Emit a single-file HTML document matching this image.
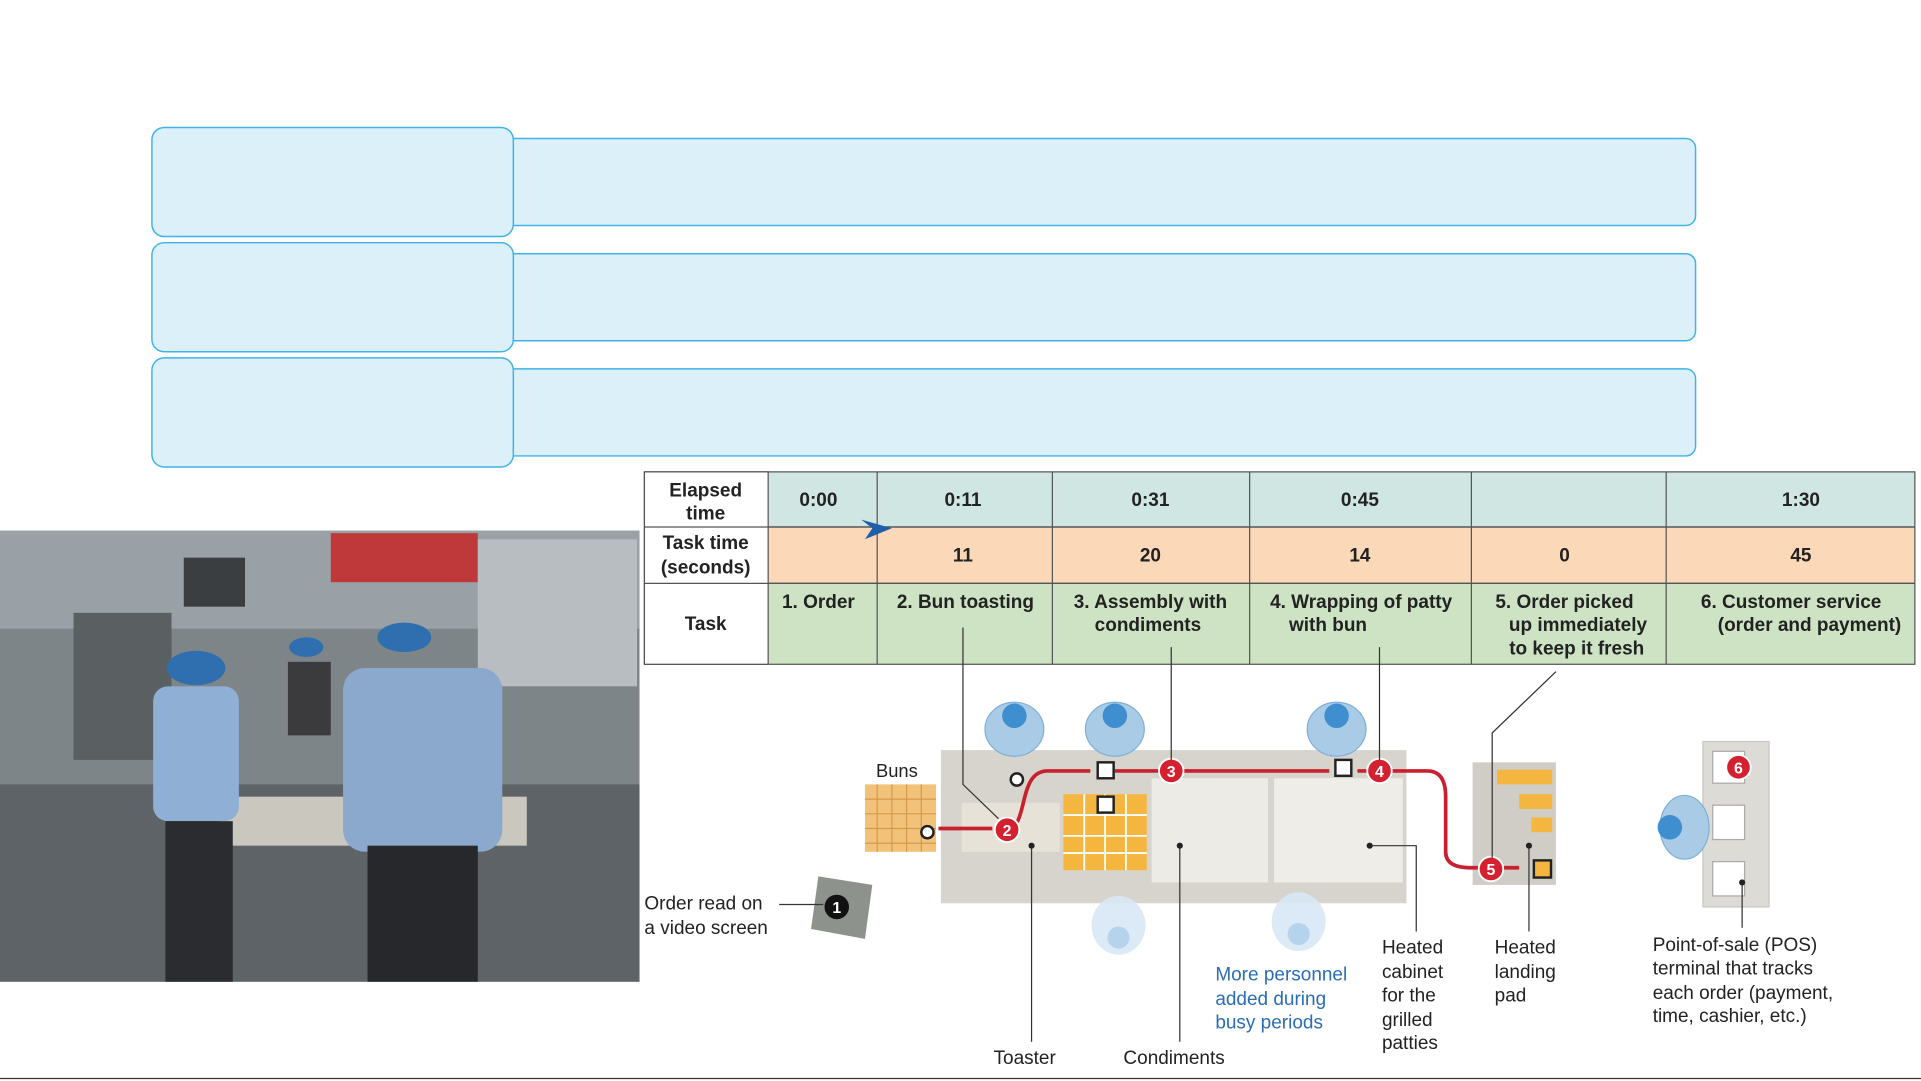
<!DOCTYPE html>
<html><head><meta charset="utf-8"><style>
html,body{margin:0;padding:0;background:#fff;overflow:hidden}
svg{display:block}
text{font-family:"Liberation Sans",sans-serif}
</style></head><body>
<svg width="1921" height="1081" viewBox="0 0 1568 882" preserveAspectRatio="none" xmlns="http://www.w3.org/2000/svg">
<rect width="1568" height="882" fill="#fff"/>
<!-- list boxes -->
<g fill="#dcf0fa" stroke="#3fb3e8" stroke-width="1.2">
<rect x="410" y="113" width="974" height="71" rx="8"/>
<rect x="124" y="104" width="295" height="89" rx="10"/>
<rect x="410" y="207" width="974" height="71" rx="8"/>
<rect x="124" y="198" width="295" height="89" rx="10"/>
<rect x="410" y="301" width="974" height="71" rx="8"/>
<rect x="124" y="292" width="295" height="89" rx="10"/>
</g>
<!-- photo placeholder -->
<rect x="0" y="433" width="522" height="368" fill="#7d8588"/>
<rect x="0" y="433" width="522" height="80" fill="#9aa1a6"/>
<rect x="270" y="435" width="120" height="40" fill="#c0393a"/>
<rect x="390" y="440" width="130" height="120" fill="#b7bdc1"/>
<rect x="60" y="500" width="80" height="120" fill="#5a5f62"/>
<rect x="150" y="455" width="50" height="40" fill="#3a3e40"/>
<rect x="0" y="640" width="522" height="161" fill="#5d6366"/>
<rect x="180" y="650" width="250" height="40" fill="#c9c7be"/>
<ellipse cx="160" cy="545" rx="24" ry="14" fill="#2f6fb0"/>
<rect x="125" y="560" width="70" height="110" rx="12" fill="#8fb0d4"/>
<rect x="135" y="670" width="55" height="131" fill="#2a2c30"/>
<ellipse cx="330" cy="520" rx="22" ry="12" fill="#2f6fb0"/>
<rect x="280" y="545" width="130" height="150" rx="18" fill="#8aa9cc"/>
<rect x="300" y="690" width="90" height="111" fill="#26282c"/>
<ellipse cx="250" cy="528" rx="14" ry="8" fill="#2f6fb0"/>
<rect x="235" y="540" width="35" height="60" fill="#3b3b3d"/>
<!-- table -->
<g stroke="#555" stroke-width="1">
<rect x="526" y="385" width="1037" height="45" fill="#cfe6e3"/>
<rect x="526" y="430" width="1037" height="46" fill="#fbd9b8"/>
<rect x="526" y="476" width="1037" height="66" fill="#cde3c3"/>
<rect x="526" y="385" width="101" height="157" fill="#fff"/>
<line x1="526" y1="430" x2="1563" y2="430"/><line x1="526" y1="476" x2="1563" y2="476"/>
<line x1="716" y1="385" x2="716" y2="542"/><line x1="859" y1="385" x2="859" y2="542"/>
<line x1="1020" y1="385" x2="1020" y2="542"/><line x1="1201" y1="385" x2="1201" y2="542"/>
<line x1="1360" y1="385" x2="1360" y2="542"/>
</g>
<path d="M703 424 L728 431 L706 440 L712 431 Z" fill="#1f5fa8"/>
<g font-size="15.5" font-weight="bold" fill="#222" text-anchor="middle">
<text x="576" y="405">Elapsed</text><text x="576" y="424">time</text>
<text x="576" y="448">Task time</text><text x="576" y="468">(seconds)</text>
<text x="576" y="514">Task</text>
<text x="668" y="413">0:00</text><text x="786" y="413">0:11</text><text x="939" y="413">0:31</text>
<text x="1110" y="413">0:45</text><text x="1470" y="413">1:30</text>
<text x="786" y="458">11</text><text x="939" y="458">20</text><text x="1110" y="458">14</text>
<text x="1277" y="458">0</text><text x="1470" y="458">45</text>
<text x="668" y="496">1. Order</text><text x="788" y="496">2. Bun toasting</text>
<text x="939" y="496">3. Assembly with</text><text x="937" y="515">condiments</text>
<text x="1111" y="496">4. Wrapping of patty</text><text x="1084" y="515">with bun</text>
<text x="1277" y="496">5. Order picked</text><text x="1288" y="515">up immediately</text><text x="1287" y="534">to keep it fresh</text>
<text x="1462" y="496">6. Customer service</text><text x="1477" y="515">(order and payment)</text>
</g>
<!-- diagram -->
<rect x="768" y="612" width="380" height="125" fill="#d6d4cc"/>
<rect x="785" y="655" width="80" height="40" fill="#e6e2d8"/>
<rect x="940" y="635" width="95" height="85" fill="#ecebe6"/>
<rect x="1040" y="635" width="105" height="85" fill="#eeede8"/>
<rect x="868" y="648" width="68" height="62" fill="#f4b63e"/>
<g stroke="#fff" stroke-width="1.5"><line x1="868" y1="665" x2="936" y2="665"/><line x1="868" y1="682" x2="936" y2="682"/><line x1="868" y1="696" x2="936" y2="696"/><line x1="885" y1="648" x2="885" y2="710"/><line x1="902" y1="648" x2="902" y2="710"/><line x1="919" y1="648" x2="919" y2="710"/></g>
<rect x="706" y="640" width="58" height="55" fill="#f2c27a"/>
<g fill="none" stroke="#d49a4a" stroke-width="1"><path d="M706 652H764M706 664H764M706 676H764M706 688H764M716 640V695M728 640V695M740 640V695M752 640V695"/></g>
<text x="715" y="634" font-size="15" fill="#222">Buns</text>
<rect x="1202" y="622" width="68" height="100" fill="#cfcdc6"/>
<g fill="#f4b63e"><rect x="1222" y="628" width="45" height="12"/><rect x="1240" y="648" width="27" height="12"/><rect x="1250" y="667" width="17" height="12"/></g>
<rect x="1390" y="605" width="54" height="135" fill="#dcdbd6" stroke="#c8c7c2"/>
<g fill="#fff" stroke="#aaa"><rect x="1398" y="613" width="26" height="26"/><rect x="1398" y="657" width="26" height="28"/><rect x="1398" y="703" width="26" height="28"/></g>
<!-- people -->
<g fill="#a9cbe6" stroke="#7fb0d8"><ellipse cx="828" cy="595" rx="24" ry="22"/><ellipse cx="910" cy="595" rx="24" ry="22"/><ellipse cx="1091" cy="595" rx="24" ry="22"/><ellipse cx="1375" cy="675" rx="20" ry="26"/></g>
<g fill="#3f8fd0"><circle cx="828" cy="584" r="10"/><circle cx="910" cy="584" r="10"/><circle cx="1091" cy="584" r="10"/><circle cx="1363" cy="675" r="10"/></g>
<g fill="#d7e8f5" opacity="0.9"><ellipse cx="913" cy="755" rx="22" ry="24"/><ellipse cx="1060" cy="752" rx="22" ry="24"/></g>
<g fill="#b5d3ec"><circle cx="913" cy="765" r="9"/><circle cx="1060" cy="762" r="9"/></g>
<!-- flow -->
<g fill="none" stroke="#c8202e" stroke-width="3">
<path d="M766 676 H810"/><path d="M822 676 C840 676 830 629 855 629 H890"/><path d="M910 629 H1085"/><path d="M1108 629 H1165 Q1180 629 1180 650 V695 Q1180 708 1200 708 H1240"/>
</g>
<g fill="#fff" stroke="#222" stroke-width="2"><rect x="896" y="622" width="13" height="13"/><rect x="1090" y="620" width="13" height="13"/><rect x="896" y="650" width="13" height="13"/><rect x="1252" y="702" width="14" height="14" fill="#f4b63e"/><circle cx="757" cy="679" r="5"/><circle cx="830" cy="636" r="5"/></g>
<g fill="#d4202f" stroke="#fff" stroke-width="1.5"><circle cx="822" cy="677" r="10"/><circle cx="956" cy="629" r="10"/><circle cx="1126" cy="629" r="10"/><circle cx="1217" cy="709" r="10"/><circle cx="1419" cy="626" r="10"/></g>
<g fill="#fff" font-size="13" font-weight="bold" text-anchor="middle"><text x="822" y="682">2</text><text x="956" y="634">3</text><text x="1126" y="634">4</text><text x="1217" y="714">5</text><text x="1419" y="631">6</text></g>
<path d="M668 715 L712 722 L706 766 L662 758 Z" fill="#8e928c"/>
<circle cx="683" cy="740" r="10" fill="#111"/><text x="683" y="745" fill="#fff" font-size="13" font-weight="bold" text-anchor="middle">1</text>
<!-- leaders -->
<g stroke="#333" stroke-width="1" fill="none">
<path d="M636 738 H672"/><path d="M786 512 V640 L815 668"/><path d="M956 528 V620"/><path d="M1126 528 V620"/>
<path d="M1270 548 L1218 598 V700"/><path d="M842 690 V850"/><path d="M963 690 V850"/>
<path d="M1118 690 H1156 V760"/><path d="M1248 690 V760"/><path d="M1422 720 V757"/>
</g>
<g fill="#222"><circle cx="842" cy="690" r="2.5"/><circle cx="963" cy="690" r="2.5"/><circle cx="1118" cy="690" r="2.5"/><circle cx="1248" cy="690" r="2.5"/><circle cx="1422" cy="720" r="2.5"/></g>
<g font-size="15.5" fill="#222">
<text x="526" y="742">Order read on</text><text x="526" y="762">a video screen</text>
<text x="811" y="868">Toaster</text><text x="917" y="868">Condiments</text>
<text x="1128" y="778">Heated</text><text x="1128" y="798">cabinet</text><text x="1128" y="817">for the</text><text x="1128" y="837">grilled</text><text x="1128" y="856">patties</text>
<text x="1220" y="778">Heated</text><text x="1220" y="798">landing</text><text x="1220" y="817">pad</text>
<text x="1349" y="776">Point-of-sale (POS)</text><text x="1349" y="795">terminal that tracks</text><text x="1349" y="815">each order (payment,</text><text x="1349" y="834">time, cashier, etc.)</text>
</g>
<g font-size="15.5" fill="#2a6db5"><text x="992" y="800">More personnel</text><text x="992" y="820">added during</text><text x="992" y="839">busy periods</text></g>
<line x1="0" y1="880" x2="1568" y2="880" stroke="#333" stroke-width="1"/>
</svg>
</body></html>
